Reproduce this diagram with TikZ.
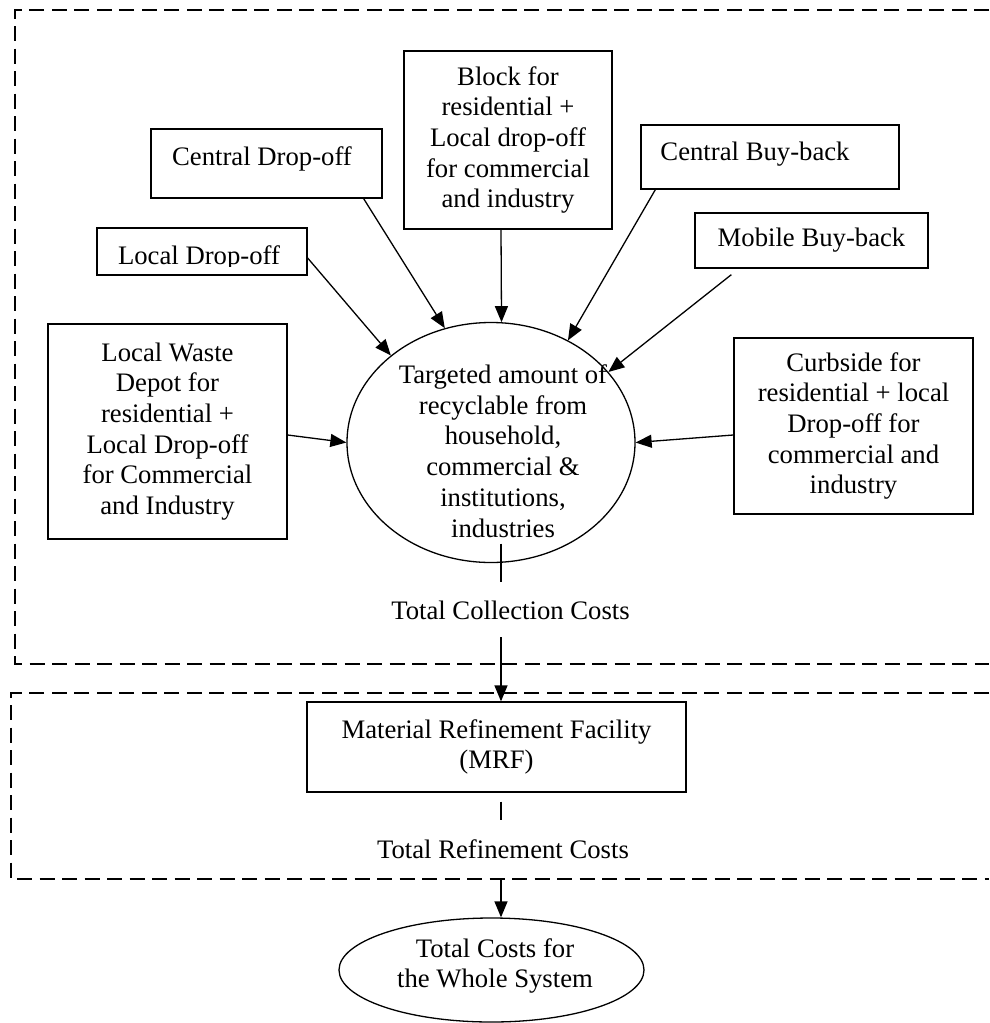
\documentclass[tikz,border=0pt]{standalone}
\usepackage{fontspec}
\setmainfont{Liberation Serif}
\usetikzlibrary{arrows.meta,shapes.geometric}
\begin{document}
\begin{tikzpicture}[x=1pt,y=-1pt,
  font=\fontsize{26.7}{30.7}\selectfont,
  box/.style={draw, line width=1.3pt, inner sep=0pt, align=center},
  txt/.style={inner sep=0pt, align=center},
  oval/.style={draw, ellipse, line width=1.3pt, inner sep=0pt},
  arr/.style={line width=1.3pt, -{Triangle[length=16pt,width=13pt]}},
  conn/.style={line width=1.3pt},
  region/.style={line width=1.3pt, dash pattern=on 15pt off 7.5pt}]
\useasboundingbox (0,0) rectangle (989,1023);

% dashed regions
\draw[region] (989,10) -- (15,10) -- (15,664) -- (989,664);
\draw[region] (989,693) -- (11,693) -- (11,879) -- (989,879);

% source boxes
\node[box, minimum width=231pt, minimum height=69pt] (cdo) at (266.5,163.5) {};
\node[txt] (cdot) at (262,159) {Central Drop-off};

\node[box, minimum width=210pt, minimum height=47pt] (ldo) at (202,251.5) {};
\begin{scope}
  \clip (97,228) rectangle (307,266);
  \node[txt] (ldot) at (199,258) {Local Drop-off};
\end{scope}

\node[box, minimum width=208pt, minimum height=178pt] (blk) at (508,140)
  {Block for\\residential +\\Local drop-off\\for commercial\\and industry};

\node[box, minimum width=258pt, minimum height=64pt] (cbb) at (770,157) {};
\node[txt] (cbbt) at (755,154) {Central Buy-back};

\node[box, minimum width=233pt, minimum height=55pt] (mbb) at (811.5,240.5) {Mobile Buy-back};

\node[box, minimum width=239pt, minimum height=215pt] (lwd) at (167.5,431.5)
  {Local Waste\\Depot for\\residential +\\Local Drop-off\\for Commercial\\and Industry};

\node[box, minimum width=239pt, minimum height=176pt] (cur) at (853.5,426)
  {Curbside for\\residential + local\\Drop-off for\\commercial and\\industry};

% central ellipse
\node[oval, minimum width=288pt, minimum height=240pt] (tg) at (491,442.5) {};
\node[txt] (tgt) at (503,451)
  {Targeted amount of\\recyclable from\\household,\\commercial \&\\institutions,\\industries};

\node[txt] (tcc) at (510.5,610) {Total Collection Costs};

\node[box, minimum width=379pt, minimum height=90pt] (mrf) at (496.5,747)
  {Material Refinement Facility\\(MRF)};

\node[txt] (trc) at (503,849) {Total Refinement Costs};

\node[oval, minimum width=305pt, minimum height=104pt] (tce) at (491.5,970) {};
\node[txt] (tcet) at (495,966) {Total Costs for\\the Whole System};

% connectors
\draw[arr] ([xshift=-19pt]cdo.south east) -- (tg.112.3);
\draw[arr] ([yshift=-6.5pt]ldo.east) -- (tg.139.6);
\draw[arr] ([xshift=-7pt]blk.south) -- (tg.85.2);
\draw[arr] ([xshift=15pt]cbb.south west) -- (tg.53.6);
\draw[arr] ([xshift=37pt,yshift=-6pt]mbb.south west) -- (tg.31.2);
\draw[arr] ([yshift=-3.5pt]lwd.east) -- (tg.180);
\draw[arr] ([yshift=-9pt]cur.west) -- (tg.0);

\draw[conn] ([xshift=10pt,yshift=19.5pt]tg.south) -- ([xshift=10pt,yshift=-18.5pt]tg.south);
\draw[arr] ([xshift=-9.5pt,yshift=-27pt]tcc.center) -- ([xshift=4.5pt]mrf.north);
\draw[conn] ([xshift=4.5pt,yshift=-9pt]mrf.south) -- ([xshift=4.5pt,yshift=-27pt]mrf.south);
\draw[arr] ([xshift=-2pt,yshift=-31pt]trc.center) -- ([xshift=9.5pt]tce.north);
\end{tikzpicture}
\end{document}
